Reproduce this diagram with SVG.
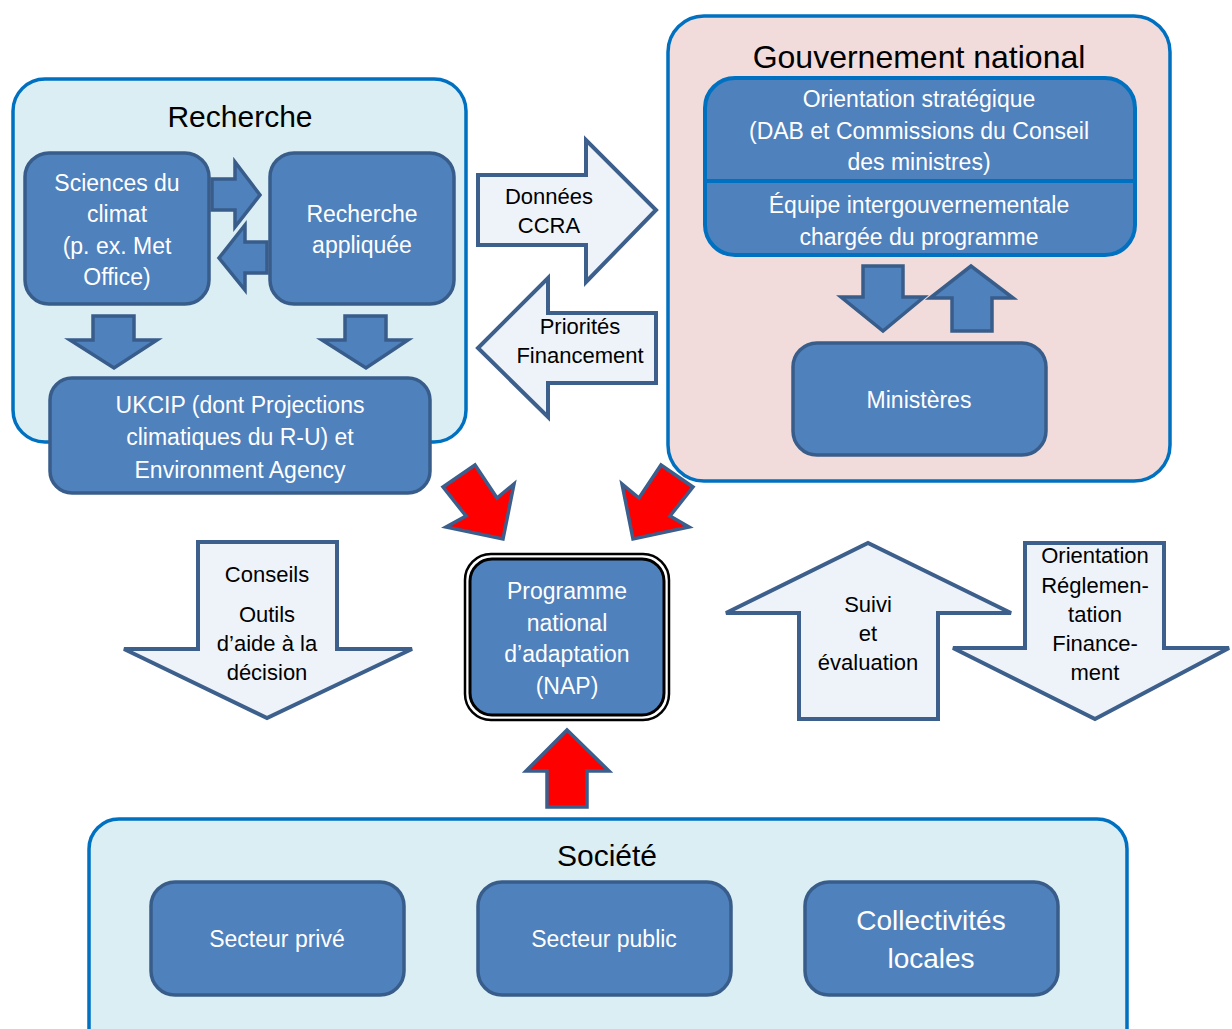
<svg xmlns="http://www.w3.org/2000/svg" width="1232" height="1029" viewBox="0 0 1232 1029">
<style>
text{font-family:"Liberation Sans",Arial,sans-serif;text-anchor:middle}
.cont{stroke:#0070C0;stroke-width:3.5}
.blue{fill:#DBEEF4}
.pink{fill:#F2DCDB}
.box{fill:#4F81BD;stroke:#385D8A;stroke-width:3.5}
.bt{fill:#ffffff;font-size:23px}
.title{fill:#000;font-size:30px}
.barrow{fill:#4F81BD;stroke:#385D8A;stroke-width:3.5;stroke-linejoin:miter}
.larrow{fill:#EEF3FA;stroke:#3D5F8C;stroke-width:4;stroke-linejoin:miter}
.rarrow{fill:#FF0000;stroke:#3B5E8C;stroke-width:3.5;stroke-linejoin:miter}
.at{fill:#000;font-size:22px}
</style>
<rect width="1232" height="1029" fill="#ffffff"/>

<g id="recherche">
<rect class="cont blue" x="13" y="79" width="453" height="363" rx="32"/>
<text class="title" x="240" y="127">Recherche</text>
</g>
<g id="sciences">
<rect class="box" x="25" y="153" width="184" height="151" rx="24"/>
<text class="bt" x="117" y="191">Sciences du</text>
<text class="bt" x="117" y="222">climat</text>
<text class="bt" x="117" y="254">(p. ex. Met</text>
<text class="bt" x="117" y="285">Office)</text>
</g>
<g id="appliquee">
<rect class="box" x="270" y="153" width="184" height="151" rx="24"/>
<text class="bt" x="362" y="222">Recherche</text>
<text class="bt" x="362" y="253">appliquée</text>
</g>
<g id="ukcip">
<rect class="box" x="50" y="378" width="380" height="115" rx="22"/>
<text class="bt" x="240" y="413">UKCIP (dont Projections</text>
<text class="bt" x="240" y="445">climatiques du R-U) et</text>
<text class="bt" x="240" y="478">Environment Agency</text>
</g>

<g id="gouvernement">
<rect class="cont pink" x="668" y="16" width="502" height="465" rx="36"/>
<text class="title" x="919" y="68" style="font-size:32px">Gouvernement national</text>
</g>
<g id="orientation-strategique">
<rect x="705" y="78" width="430" height="177" rx="30" fill="#4F81BD" stroke="#0070C0" stroke-width="4"/>
<line x1="707" y1="181" x2="1133" y2="181" stroke="#0070C0" stroke-width="4"/>
<text class="bt" x="919" y="107">Orientation stratégique</text>
<text class="bt" x="919" y="139">(DAB et Commissions du Conseil</text>
<text class="bt" x="919" y="170">des ministres)</text>
<text class="bt" x="919" y="213">Équipe intergouvernementale</text>
<text class="bt" x="919" y="245">chargée du programme</text>
</g>
<g id="ministeres">
<rect class="box" x="793" y="343" width="253" height="112" rx="24"/>
<text class="bt" x="919" y="408">Ministères</text>
</g>

<g id="nap">
<rect x="465" y="554" width="204" height="166" rx="26" fill="#ffffff" stroke="#000" stroke-width="2.5"/>
<rect x="470" y="559" width="194" height="156" rx="22" fill="#4F81BD" stroke="#000" stroke-width="3"/>
<text class="bt" x="567" y="599">Programme</text>
<text class="bt" x="567" y="631">national</text>
<text class="bt" x="567" y="662">d’adaptation</text>
<text class="bt" x="567" y="694">(NAP)</text>
</g>

<g id="societe">
<rect class="cont blue" x="89" y="819" width="1038" height="240" rx="30"/>
<text class="title" x="607" y="866">Société</text>
</g>
<g id="prive">
<rect class="box" x="151" y="882" width="253" height="113" rx="24"/>
<text class="bt" x="277" y="947">Secteur privé</text>
</g>
<g id="public">
<rect class="box" x="478" y="882" width="253" height="113" rx="24"/>
<text class="bt" x="604" y="947">Secteur public</text>
</g>
<g id="collectivites">
<rect class="box" x="805" y="882" width="253" height="113" rx="24"/>
<text class="bt" x="931" y="930" style="font-size:28px">Collectivités</text>
<text class="bt" x="931" y="968" style="font-size:28px">locales</text>
</g>

<g id="connectors">
<polygon class="barrow" points="212,179 235,179 235,162 260,195 235,227 235,210 212,210"/>
<polygon class="barrow" points="267,242 245,242 245,225 219,258 245,290 245,273 267,273"/>
<polygon class="barrow" points="93,316 134,316 134,340 157,340 114,368 70,340 93,340"/>
<polygon class="barrow" points="345,316 386,316 386,340 408,340 366,368 322,340 345,340"/>
<polygon class="barrow" points="863,266 903,266 903,297 924,297 883,331 841,297 863,297"/>
<polygon class="barrow" points="952,331 992,331 992,298 1013,298 971,266 930,298 952,298"/>
<g>
<polygon class="larrow" points="478,175 586,175 586,140 656,210 586,282 586,245 478,245"/>
<text class="at" x="549" y="204">Données</text>
<text class="at" x="549" y="233">CCRA</text>
</g>
<g>
<polygon class="larrow" points="656,313 548,313 548,278 478,348 548,417 548,383 656,383"/>
<text class="at" x="580" y="334">Priorités</text>
<text class="at" x="580" y="363">Financement</text>
</g>
<polygon class="rarrow" points="443,487 475,465 497,498 514,484 503,539 446,527 466,516"/>
<polygon class="rarrow" points="693,487 661,465 639,498 622,484 633,539 689,527 670,516"/>
<polygon class="rarrow" points="547,807 587,807 587,771 609,771 567,730 526,771 547,771"/>
<g>
<polygon class="larrow" points="198,542 337,542 337,649 412,649 267,718 124,649 198,649"/>
<text class="at" x="267" y="582">Conseils</text>
<text class="at" x="267" y="622">Outils</text>
<text class="at" x="267" y="651">d’aide à la</text>
<text class="at" x="267" y="680">décision</text>
</g>
<g>
<polygon class="larrow" points="799,719 938,719 938,613 1011,613 868,543 726,613 799,613"/>
<text class="at" x="868" y="612">Suivi</text>
<text class="at" x="868" y="641">et</text>
<text class="at" x="868" y="670">évaluation</text>
</g>
<g>
<polygon class="larrow" points="1025,543 1164,543 1164,648 1229,648 1095,719 953,648 1025,648"/>
<text class="at" x="1095" y="563">Orientation</text>
<text class="at" x="1095" y="593">Réglemen-</text>
<text class="at" x="1095" y="622">tation</text>
<text class="at" x="1095" y="651">Finance-</text>
<text class="at" x="1095" y="680">ment</text>
</g>
</g>
</svg>
